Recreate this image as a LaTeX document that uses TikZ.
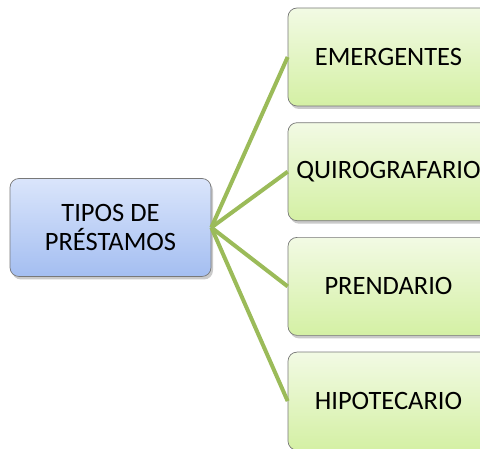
\documentclass[tikz,border=0pt]{standalone}
\usepackage{fontspec}
\setmainfont{Carlito}
\usepackage{tikz}
\usetikzlibrary{positioning, shadows}
\usepackage{xcolor}
\definecolor{boxblue}{RGB}{218,229,251}
\definecolor{boxbluedark}{RGB}{164,190,241}
\definecolor{boxgreen}{RGB}{242,250,228}
\definecolor{boxgreendark}{RGB}{212,240,164}
\definecolor{linkgreen}{RGB}{155,187,89}
\definecolor{edgegray}{RGB}{120,120,120}

\tikzset{
  card/.style={draw=edgegray, line width=0.7pt, rounded corners=9pt,
    minimum width=201pt, minimum height=98pt, inner sep=0pt, align=center,
    font=\fontsize{26.5}{29}\selectfont,
    drop shadow={shadow xshift=2pt, shadow yshift=-3pt, opacity=0.35, fill=black!60}},
  rootcard/.style={card, top color=boxblue, bottom color=boxbluedark},
  leafcard/.style={card, top color=boxgreen, bottom color=boxgreendark},
  link/.style={linkgreen, line width=4pt}
}

\begin{document}
\begin{tikzpicture}[x=1pt, y=1pt]
  \useasboundingbox (0,0) rectangle (480,449);

  % root
  \node[rootcard] (tipos) at (110.5,221.5) {TIPOS DE\\PRÉSTAMOS};

  % leaves
  \node[leafcard] (emergentes) at (388.5,392) {EMERGENTES};
  \node[leafcard, below=16pt of emergentes] (quiro) {QUIROGRAFARIO};
  \node[leafcard, below=16pt of quiro] (prendario) {PRENDARIO};
  \node[leafcard, below=16pt of prendario] (hipotecario) {HIPOTECARIO};

  % connectors
  \foreach \leaf in {emergentes, quiro, prendario, hipotecario}
    \draw[link] (tipos.east) -- (\leaf.west);
\end{tikzpicture}
\end{document}
